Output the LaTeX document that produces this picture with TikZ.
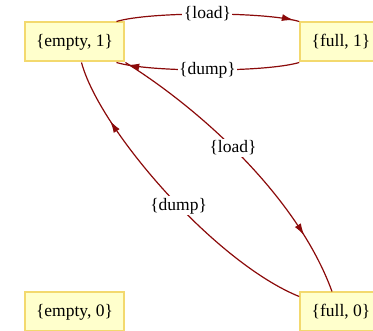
\documentclass[tikz,border=0pt]{standalone}
\usepackage{fontspec}
\setmainfont{Liberation Serif}
\usetikzlibrary{arrows.meta,decorations.markings}

\definecolor{statefill}{HTML}{FFFFCC}
\definecolor{stateline}{HTML}{F3D96E}
\definecolor{edgered}{HTML}{8B0A0A}

\def\colsep{266.5pt}

\begin{document}
\begin{tikzpicture}[x=1pt,y=1pt,font=\fontsize{17.5}{21}\selectfont]
    \tikzstyle{state}=[rectangle,draw=stateline,fill=statefill,line width=2pt,inner xsep=11.5pt,minimum height=39pt]
    \tikzstyle{trans}=[color=edgered,line width=1.2pt]
    \tikzstyle{annot}=[fill=white,inner sep=1.5pt,text=black]
    \tikzset{tip at/.style={postaction={decorate,decoration={markings,
        mark=at position #1 with {\arrow{Latex[length=12pt,width=7pt]}}}}}}

    \clip (0,0) rectangle (373,-331);

    % Draw the state nodes
    \node[state] (E1) at (74.5,-42) {\{empty, 1\}};
    \node[state] (F1) at (341,-42) {\{full, 1\}};
    \node[state] (E0) at (74.5,-312) {\{empty, 0\}};
    \node[state] (F0) at (341,-312) {\{full, 0\}};

    % Transitions between the upper states
    \draw[trans,tip at=0.97] ([xshift=-9pt]E1.north east) .. controls +(33,10) and +(-34,10) ..
        node[annot] (l1) {\{load\}} (F1.north west);
    \draw[trans,tip at=0.94] (F1.south west) .. controls +(-34,-10) and +(33,-10) ..
        node[annot] (d1) {\{dump\}} ([xshift=-9pt]E1.south east);

    % Transitions across to the lower row
    \draw[trans,tip at=0.8] (E1.south east) .. controls +(-32:90) and +(110:100) ..
        node[annot,pos=0.45] (l2) {\{load\}} ([xshift=-9pt]F0.north);
    \draw[trans,tip at=0.8] ([yshift=-5pt]F0.north west) .. controls +(158:90) and +(-75:70) ..
        node[annot,pos=0.45] (d2) {\{dump\}} ([xshift=7pt]E1.south);
\end{tikzpicture}
\end{document}
